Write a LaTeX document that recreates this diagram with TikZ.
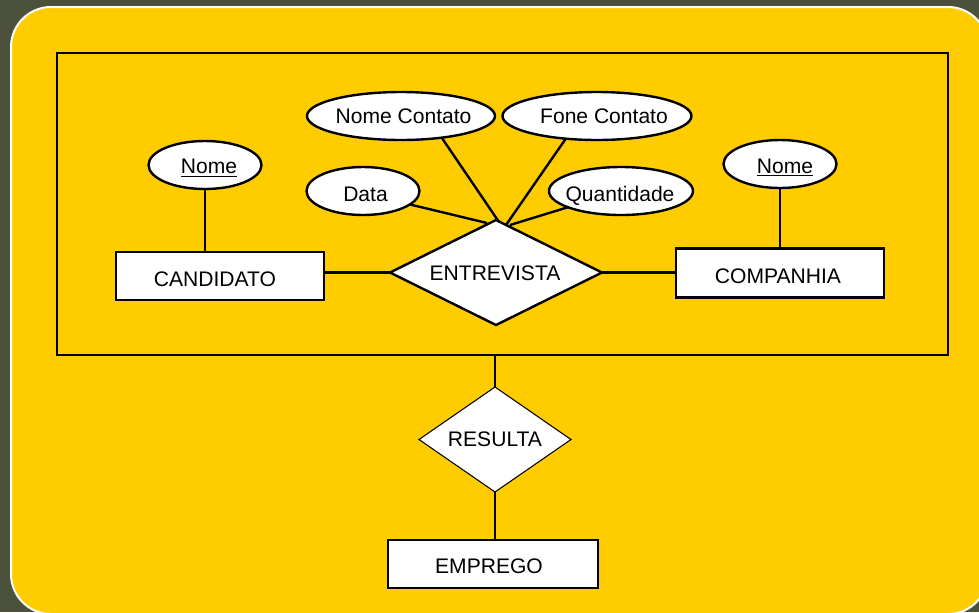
\documentclass[tikz,border=0pt]{standalone}
\usepackage{fontspec}
\setmainfont{Liberation Sans}
\usetikzlibrary{shapes.geometric,calc}
\definecolor{bgdark}{RGB}{75,81,59}
\definecolor{panel}{RGB}{255,204,0}
\newcommand\lbl[3]{\makebox[0pt]{\kern#1\raisebox{-#2}[\height][0pt]{#3}\kern-#1}}
\begin{document}
\begin{tikzpicture}[x=0.75pt,y=-0.75pt,
  font=\fontsize{15.8pt}{18pt}\selectfont,
  entbox/.style={draw, fill=white, line width=1.8pt, inner sep=0pt, outer sep=0pt, minimum width=156pt, minimum height=36pt},
  attr/.style={ellipse, draw, fill=white, line width=1.8pt, inner sep=0pt, outer sep=0pt, minimum height=36pt},
  rel/.style={diamond, draw, fill=white, inner sep=0pt, outer sep=0pt},
  link/.style={line width=1.8pt}]
\useasboundingbox (0,0) rectangle (979,612);
\fill[bgdark] (0,0) rectangle (979,612);
\draw[white, line width=1.5pt, fill=panel, rounded corners=30pt] (11,7) rectangle (988,614);
\node[draw, line width=1.8pt, minimum width=668.25pt, minimum height=226.5pt, inner sep=0pt, outer sep=0pt] (frame) at (502.5,204) {};
% entities
\node[entbox] (cand) at (220,276) {\lbl{-3.75pt}{2.25pt}{CANDIDATO}};
\node[entbox, minimum height=37pt] (comp) at (780,273) {\lbl{-1.5pt}{2.25pt}{COMPANHIA}};
\node[entbox, minimum width=157.5pt] (emp) at (493,564) {\lbl{-3pt}{1.9pt}{EMPREGO}};
% attributes
\node[attr, minimum width=84.75pt] (nomeL) at (205,165) {\lbl{3pt}{1.1pt}{\underline{Nome}}};
\node[attr, minimum width=84.75pt] (nomeR) at (780,164) {\lbl{3.75pt}{1.5pt}{\underline{Nome}}};
\node[attr, minimum width=141pt] (nc) at (401,116) {\lbl{1.9pt}{0pt}{Nome Contato}};
\node[attr, minimum width=141.75pt] (fc) at (597,116) {\lbl{5.25pt}{0pt}{Fone Contato}};
\node[attr, minimum width=84.75pt] (data) at (363,191) {\lbl{1.9pt}{2.6pt}{Data}};
\node[attr, minimum width=108pt] (q) at (621,191) {\lbl{-0.75pt}{2.25pt}{Quantidade}};
% relationships
\node[rel, line width=1.8pt, minimum width=159pt, minimum height=78.75pt] (ent) at (496,272.5) {\lbl{-0.75pt}{0.75pt}{ENTREVISTA}};
\node[rel, line width=0.8pt, minimum width=114pt, minimum height=78.75pt] (res) at (495,439.5) {\lbl{0pt}{0pt}{RESULTA}};
% connectors
\draw[link] (nomeL.south) -- (nomeL.south |- cand.north);
\draw[link] (nomeR.south) -- (nomeR.south |- comp.north);
\draw[link] (ent.west) -- (ent.west -| cand.east);
\draw[link] (ent.east) -- (ent.east -| comp.west);
\draw[link] (data.-16) -- ([shift={(-9,3)}]ent.north);
\draw[link] (nc.-28) -- ([shift={(3,2)}]ent.north);
\draw[link] (fc.-144) -- ([shift={(10,5)}]ent.north);
\draw[link] (q.-163) -- ([shift={(14,5)}]ent.north);
\draw[link] (frame.south -| res.north) -- (res.north);
\draw[link] (res.south) -- (res.south |- emp.north);
\end{tikzpicture}
\end{document}
